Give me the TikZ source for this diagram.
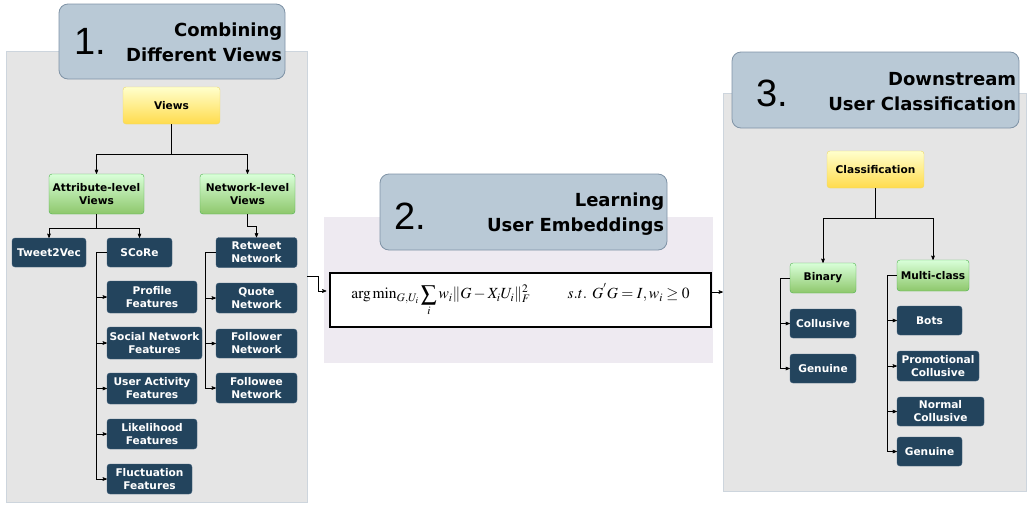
\documentclass[tikz,border=0pt]{standalone}
\usepackage{mathptmx}
\usepackage[no-math]{fontspec}
\setmainfont{DejaVu Sans}
\newfontfamily\numfont{Liberation Sans}
\usepackage{tikz}
\usetikzlibrary{arrows,positioning}
\definecolor{navy}{HTML}{23445D}
\definecolor{navyline}{HTML}{3D5C78}
\definecolor{headfill}{HTML}{B9C9D6}
\definecolor{headline}{HTML}{7F93A6}
\definecolor{panelgray}{HTML}{E5E5E5}
\definecolor{panelline}{HTML}{CDD5DD}
\definecolor{lavender}{HTML}{EEEAF1}
\tikzset{
    %Define standard arrow tip
    >=stealth',
    %Define style for the three grey areas
    panel/.style={
           draw=panelline,
           fill=panelgray},
    %Define style for the numbered headers
    head/.style={
           rounded corners=9pt,
           draw=headline, thick,
           fill=headfill},
    % Define arrow style
    arr/.style={
           ->,
           semithick}
}

\begin{document}
\begin{tikzpicture}[x=1pt, y=-1pt,
box/.style={rounded corners=3pt, align=center, inner sep=1pt,
    font=\bfseries\fontsize{10.6}{13}\selectfont},
root/.style={box, draw=yellow!60!brown!70, top color=yellow!20, bottom color=yellow!60!orange!70, minimum width=97pt, minimum height=37pt},
lvl/.style={box, draw=green!40!gray, top color=green!15, bottom color=green!50!lime!45!gray!80, minimum width=95pt, minimum height=40pt},
feat/.style={box, draw=navyline, fill=navy, text=white, minimum width=81pt, minimum height=30pt},
num/.style={font=\numfont\fontsize{38}{38}\selectfont, inner sep=0pt, anchor=west},
htxt/.style={font=\bfseries\fontsize{18}{25}\selectfont, align=right, inner sep=0pt, anchor=east}
]
\useasboundingbox (0,0) rectangle (1028,504);
%Areas
\node[panel, minimum width=301pt, minimum height=451pt] (p1) at (156.5,276.5) {};
\node[panel, draw=none, fill=lavender, minimum width=389pt, minimum height=146pt] (p2) at (518.5,290) {};
\node[panel, minimum width=303pt, minimum height=398pt] (p3) at (874.5,292) {};
%Headers
\node[head, minimum width=226pt, minimum height=75pt] (h1) at (172,41.5) {};
\node[num] (n1) at ([xshift=16pt]h1.west) {1.};
\node[htxt] (t1) at ([xshift=-3pt,yshift=-1pt]h1.east) {Combining\\Different Views};
\node[head, minimum width=287pt, minimum height=76pt] (h2) at (523.5,212) {};
\node[num] (n2) at ([xshift=15pt,yshift=-4pt]h2.west) {2.};
\node[htxt] (t2) at ([xshift=-3pt,yshift=-2pt]h2.east) {Learning\\User Embeddings};
\node[head, minimum width=287pt, minimum height=76pt] (h3) at (875.5,90) {};
\node[num] (n3) at ([xshift=25pt,yshift=-3pt]h3.west) {3.};
\node[htxt] (t3) at ([xshift=-3pt,yshift=-2pt]h3.east) {Downstream\\User Classification};
%Views
\node[root] (views) at (171.5,105.5) {Views};
\node[lvl] (attr) at (96.5,194) {Attribute-level\\Views};
\node[lvl] (net) at (247.5,194) {Network-level\\Views};
\node[feat, minimum width=74pt, minimum height=29pt] (t2v) at (49,252.5) {Tweet2Vec};
\node[feat, minimum width=65pt, minimum height=29pt] (score) at (139.5,252.5) {SCoRe};
\node[feat, minimum width=90pt, minimum height=32pt] (prof) at (152,297) {Profile\\Features};
\node[feat, minimum width=95pt, minimum height=32pt] (soc) at (154.5,343) {Social Network\\Features};
\node[feat, minimum width=90pt, minimum height=31pt] (act) at (152,388.5) {User Activity\\Features};
\node[feat, minimum width=90pt] (lik) at (152,434) {Likelihood\\Features};
\node[feat, minimum width=85pt] (fluc) at (149.5,479) {Fluctuation\\Features};
\node[feat] (rt) at (256.5,252.5) {Retweet\\Network};
\node[feat] (qt) at (256.5,298) {Quote\\Network};
\node[feat, minimum height=29pt] (fr) at (256.5,343.5) {Follower\\Network};
\node[feat] (fe) at (256.5,388) {Followee\\Network};
\draw[arr] (views.south) -- ++(0,30) -| (attr.north);
\draw[arr] (views.south) -- ++(0,30) -| (net.north);
\draw[arr] (attr.south) -- ++(0,14) -| (t2v.north);
\draw[arr] (attr.south) -- ++(0,14) -| (score.north);
\draw[arr] (net.south) -- ++(0,12) -| (rt.north);
\foreach \c in {prof,soc,act,lik,fluc}
    \draw[arr] (score.west) -- ++(-11,0) |- (\c.west);
\foreach \c in {qt,fr,fe}
    \draw[arr] (rt.west) -- ++(-11,0) |- (\c.west);
%Embeddings
\node[draw=black, very thick, fill=white, minimum width=381pt, minimum height=54pt, inner sep=0pt] (eq) at (520.5,300)
    {\fontsize{15.5}{17}\selectfont$\arg\min\nolimits_{G,U_i} \displaystyle\sum_i w_i \|G - X_iU_i\|_F^2$\hspace{37pt}$s.t.\ G^{'}G = I, w_i \geq 0$};
\coordinate (eqin) at ([yshift=9pt]eq.west);
\coordinate (eqout) at ([yshift=8pt]eq.east);
\draw[arr, shorten >=3pt] (p1.east) -- ++(11,0) |- (eqin);
\draw[arr] (eqout) -- (eqout -| p3.west);
%Classification
\node[root] (cls) at (875.5,169.5) {Classification};
\node[lvl, minimum width=66pt, minimum height=30pt] (bin) at (823,278) {Binary};
\node[lvl, minimum width=72pt, minimum height=31pt] (mc) at (933,275.5) {Multi-class};
\node[feat, minimum width=66pt, minimum height=29pt] (col) at (823,323.5) {Collusive};
\node[feat, minimum width=66pt, minimum height=29pt] (gen1) at (823,368.5) {Genuine};
\node[feat, minimum width=65pt, minimum height=29pt] (bots) at (929.5,320.5) {Bots};
\node[feat, minimum width=82pt] (promo) at (938,366) {Promotional\\Collusive};
\node[feat, minimum width=87pt, minimum height=29pt] (norm) at (940.5,411.5) {Normal\\Collusive};
\node[feat, minimum width=65pt, minimum height=29pt] (gen2) at (929.5,451.5) {Genuine};
\draw[arr] (cls.south) -- ++(0,30) -| (bin.north);
\draw[arr] (cls.south) -- ++(0,30) -| (mc.north);
\foreach \c in {col,gen1}
    \draw[arr] (bin.west) -- ++(-10,0) |- (\c.west);
\foreach \c in {bots,promo,norm,gen2}
    \draw[arr] (mc.west) -- ++(-10,0) |- (\c.west);
\end{tikzpicture}
\end{document}
